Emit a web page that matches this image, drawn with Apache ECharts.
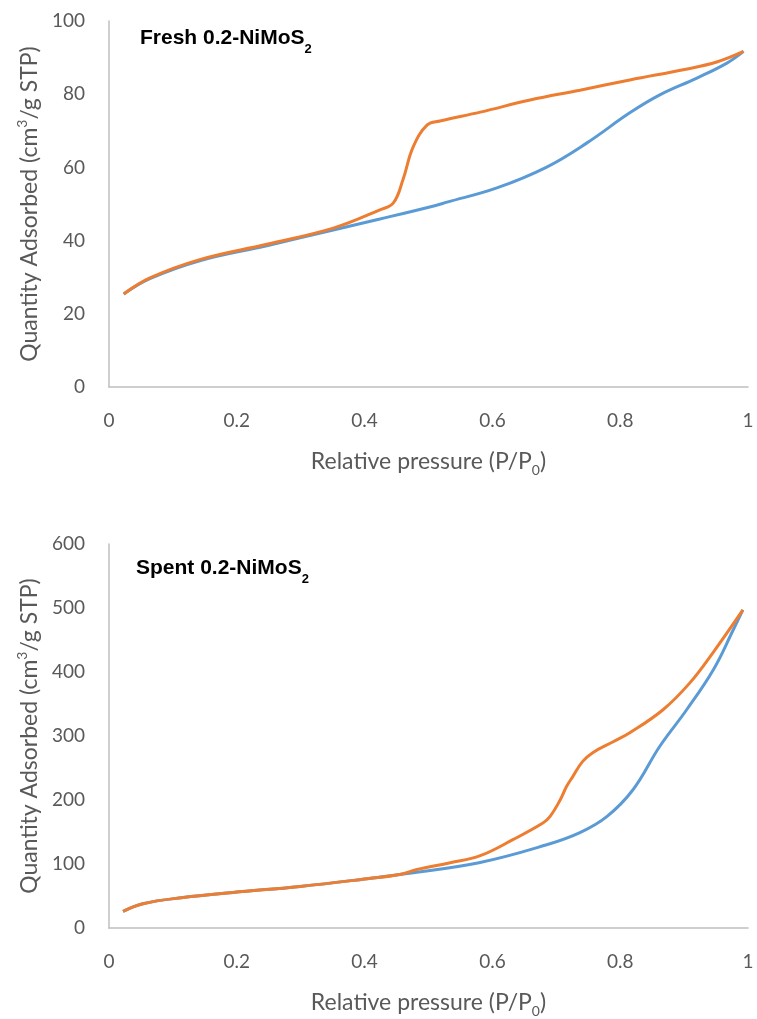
<!DOCTYPE html>
<html>
<head>
<meta charset="utf-8">
<script src="https://cdn.jsdelivr.net/npm/echarts@6/dist/echarts.min.js"></script>
<style>
  html, body { margin: 0; padding: 0; background: #fff; }
  #chart { width: 757px; height: 1019px; }
</style>
</head>
<body>
<div id="chart"></div>
<script>
// fresh sample, adsorption branch
const freshAdsP = [0.023, 0.064, 0.142, 0.247, 0.351, 0.424, 0.502, 0.529, 0.607, 0.685, 0.748, 0.815, 0.862, 0.92, 0.967, 0.993]
const freshAdsV = [25.4, 29.6, 34.5, 38.6, 42.9, 45.9, 49.2, 50.5, 54.4, 60.1, 66.7, 74.9, 79.8, 84.4, 88.5, 91.7]
// fresh sample, desorption branch
const freshDesP = [0.993, 0.951, 0.905, 0.815, 0.737, 0.659, 0.581, 0.518, 0.498, 0.476, 0.46, 0.445, 0.424, 0.351, 0.247, 0.142, 0.064, 0.023]
const freshDesV = [91.7, 88.8, 86.9, 83.9, 81.1, 78.4, 75.1, 72.7, 71.6, 65.6, 56.6, 50.3, 48.4, 43.4, 39.0, 34.8, 29.8, 25.4]
// spent sample, adsorption branch
const spentAdsP = [0.022, 0.053, 0.116, 0.194, 0.299, 0.404, 0.455, 0.579, 0.685, 0.737, 0.779, 0.82, 0.862, 0.904, 0.946, 0.977, 0.992]
const spentAdsV = [26, 38, 47.6, 55.5, 65, 77, 83.6, 102, 130, 149, 174, 216, 284, 341, 404, 466, 497]
// spent sample, desorption branch
const spentDesP = [0.992, 0.945, 0.909, 0.867, 0.815, 0.789, 0.757, 0.741, 0.726, 0.716, 0.706, 0.69, 0.679, 0.632, 0.581, 0.534, 0.482, 0.455, 0.404, 0.299, 0.194, 0.116, 0.053, 0.022]
const spentDesV = [497, 430, 383, 341, 305, 291, 274, 260, 237, 221, 200, 174, 164, 138, 113, 102, 91.4, 83.6, 77, 65, 55.5, 47.6, 38, 26]

const FONT = 'Lato'
const GREY = '#595959'
const BLUE = '#5B9BD5'
const ORANGE = '#ED7D31'

function pairs(xs, ys) {
    return xs.map((x, i) => [x, ys[i]])
}

const nameRich = {
    a: {fontFamily: FONT, fontSize: 23, color: GREY, lineHeight: 28, verticalAlign: 'bottom'},
    sub: {fontFamily: FONT, fontSize: 14, color: GREY, lineHeight: 14, verticalAlign: 'bottom', padding: [0, 0, -4, 0]},
    sup: {fontFamily: FONT, fontSize: 14, color: GREY, lineHeight: 14, verticalAlign: 'top', padding: [2, 0, 0, 0]}
}
const titleRich = {
    t: {fontFamily: 'Liberation Sans', fontSize: 21, fontWeight: 'bold', color: '#000', lineHeight: 24, verticalAlign: 'bottom'},
    s: {fontFamily: 'Liberation Sans', fontSize: 13, fontWeight: 'bold', color: '#000', lineHeight: 13, verticalAlign: 'bottom', padding: [0, 0, -7, 0]}
}

function xAxisOf(gridIndex) {
    return {
        gridIndex: gridIndex,
        type: 'value', min: 0, max: 1, interval: 0.2,
        axisLine: {lineStyle: {color: '#BFBFBF', width: 1.5}},
        axisTick: {show: false},
        splitLine: {show: false},
        axisLabel: {color: GREY, fontFamily: FONT, fontSize: 19, margin: 24},
        name: '{a|Relative pressure (P/P}{sub|0}{a|)}',
        nameLocation: 'middle', nameGap: 58,
        nameTextStyle: {rich: nameRich}
    }
}
function yAxisOf(gridIndex, max, interval) {
    return {
        gridIndex: gridIndex,
        type: 'value', min: 0, max: max, interval: interval,
        axisLine: {show: true, lineStyle: {color: '#BFBFBF', width: 1.5}},
        axisTick: {show: false},
        splitLine: {show: false},
        axisLabel: {color: GREY, fontFamily: FONT, fontSize: 19, margin: 24},
        name: '{a|Quantity Adsorbed (cm}{sup|3}{a|/g STP)}',
        nameLocation: 'middle', nameGap: 68,
        nameTextStyle: {rich: nameRich}
    }
}
function lineOf(xi, yi, data, color) {
    return {
        type: 'line', xAxisIndex: xi, yAxisIndex: yi,
        data: data, smooth: 0.4, showSymbol: false,
        lineStyle: {color: color, width: 3}, itemStyle: {color: color}
    }
}

const chart = echarts.init(document.getElementById('chart'), null, {renderer: 'canvas'})
chart.setOption({
    animation: false,
    backgroundColor: '#fff',
    title: [
        {text: '{t|Fresh 0.2-NiMoS}{s|2}', left: 135, top: 20, textStyle: {rich: titleRich}},
        {text: '{t|Spent 0.2-NiMoS}{s|2}', left: 131, top: 550, textStyle: {rich: titleRich}}
    ],
    grid: [
        {left: 109, right: 9, top: 21, height: 366},
        {left: 109, right: 9, top: 544, height: 385}
    ],
    xAxis: [xAxisOf(0), xAxisOf(1)],
    yAxis: [yAxisOf(0, 100, 20), yAxisOf(1, 600, 100)],
    series: [
        lineOf(0, 0, pairs(freshAdsP, freshAdsV), BLUE),
        lineOf(0, 0, pairs(freshDesP, freshDesV), ORANGE),
        lineOf(1, 1, pairs(spentAdsP, spentAdsV), BLUE),
        lineOf(1, 1, pairs(spentDesP, spentDesV), ORANGE)
    ]
})
</script>
</body>
</html>
